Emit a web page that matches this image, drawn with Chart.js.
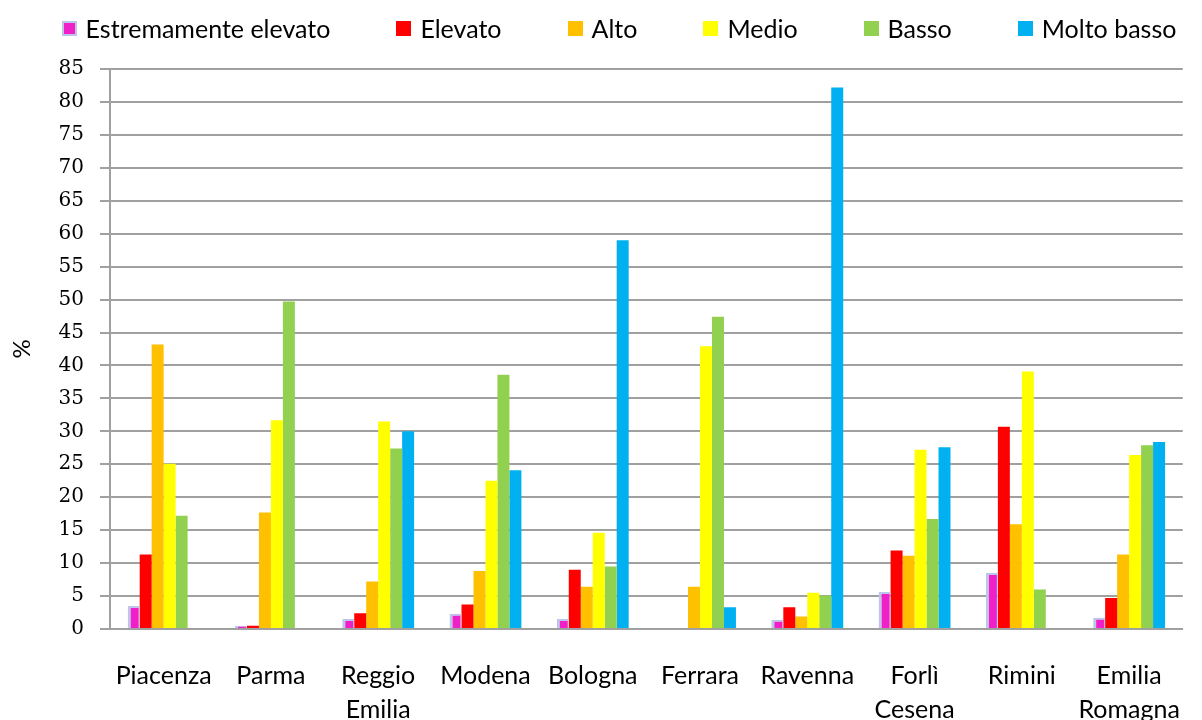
<!DOCTYPE html>
<html lang="it">
<head>
<meta charset="UTF-8">
<title>Classi di rischio per provincia</title>
<script src="https://cdn.jsdelivr.net/npm/chart.js@4.4.1/dist/chart.umd.min.js"></script>
<style>
  body { margin: 0; background: #fff; }
  #contenitore { position: relative; width: 1202px; height: 720px; }
  #legenda {
    position: absolute; top: 13px; left: 0; width: 1202px; height: 30px;
    box-sizing: border-box; padding-left: 36px;
    display: flex; justify-content: center; align-items: center; gap: 66px;
    font-family: Lato, sans-serif; font-size: 25px; color: #000;
  }
  .voce { display: flex; align-items: center; white-space: nowrap; }
  .quadrato { width: 15px; height: 15px; margin-right: 9px; box-sizing: border-box; }
</style>
</head>
<body>
<div id="contenitore">
  <canvas id="grafico"></canvas>
  <div id="legenda"></div>
</div>
<script>
// ===============================
// DATI
// ===============================

const province = ["Piacenza", "Parma", ["Reggio", "Emilia"], "Modena", "Bologna",
  "Ferrara", "Ravenna", ["Forlì", "Cesena"], "Rimini", ["Emilia", "Romagna"]];

const classi = ["Estremamente elevato", "Elevato", "Alto", "Medio", "Basso", "Molto basso"];

// percentuali per provincia (stesso ordine di "province")
const estremamenteElevato = [3.5, 0.5, 1.5, 2.3, 1.5, 0, 1.4, 5.6, 8.5, 1.7];
const elevato = [11.3, 0.5, 2.4, 3.7, 9.0, 0, 3.3, 11.9, 30.7, 4.7];
const alto = [43.2, 17.7, 7.2, 8.8, 6.4, 6.4, 1.9, 11.1, 15.9, 11.3];
const medio = [25.1, 31.7, 31.5, 22.5, 14.6, 42.9, 5.5, 27.2, 39.1, 26.4];
const basso = [17.2, 49.7, 27.4, 38.6, 9.5, 47.4, 5.1, 16.7, 6.0, 27.9];
const moltoBasso = [0, 0, 30.0, 24.1, 59.0, 3.3, 82.2, 27.6, 0, 28.4];

const tacche = [0, 5, 10, 15, 20, 25, 30, 35, 40, 45, 50, 55, 60, 65, 70, 75, 80, 85];

// ===============================
// STILE
// ===============================

const colori = ["#f020c8", "#ff0000", "#ffc000", "#ffff00", "#92d050", "#00b0f0"];
const coloreBordoMagenta = "#bcc6ea";
const grigio = "#a0a0a0";

const serie = [estremamenteElevato, elevato, alto, medio, basso, moltoBasso];

// ===============================
// GRAFICO
// ===============================

const ctx = document.getElementById("grafico").getContext("2d");

const grafico = new Chart(ctx, {
  type: "bar",
  data: {
    labels: province,
    datasets: classi.map(function (nome, i) {
      return {
        label: nome,
        data: serie[i],
        backgroundColor: colori[i],
        borderColor: i === 0 ? coloreBordoMagenta : colori[i],
        borderWidth: i === 0 ? { left: 3, top: 2, right: 1, bottom: 0 } : 0,
        categoryPercentage: 0.67,
        barPercentage: 1
      };
    })
  },
  options: {
    responsive: true,
    maintainAspectRatio: false,
    animation: false,
    layout: { padding: { top: 69, right: 4, left: 0, bottom: 0 } },
    plugins: {
      legend: { display: false },
      tooltip: { enabled: false }
    },
    scales: {
      x: {
        grid: { display: false },
        border: { display: true, color: grigio, width: 2 },
        ticks: {
          color: "#000",
          font: { family: "Lato", size: 25, lineHeight: 1.36 },
          padding: 22,
          maxRotation: 0,
          autoSkip: false
        },
        afterFit: function (scala) { scala.height = 91; }
      },
      y: {
        min: tacche[0],
        max: tacche[tacche.length - 1],
        afterBuildTicks: function (scala) {
          scala.ticks = tacche.map(function (v) { return { value: v }; });
        },
        grid: { color: grigio, lineWidth: 2, tickLength: 10 },
        border: { color: grigio, width: 2 },
        ticks: {
          color: "#000",
          font: { family: "DejaVu Serif", size: 20 },
          padding: 16
        },
        title: {
          display: true,
          text: "%",
          color: "#000",
          font: { family: "Lato", size: 24 },
          padding: { top: 8, bottom: 0 }
        },
        afterFit: function (scala) { scala.width = 110; }
      }
    }
  }
});

// ===============================
// LEGENDA
// ===============================

function disegnaLegenda(chart) {
  const legenda = document.getElementById("legenda");
  legenda.innerHTML = "";

  chart.data.datasets.forEach(function (ds, i) {
    const voce = document.createElement("div");
    voce.className = "voce";

    const quadrato = document.createElement("span");
    quadrato.className = "quadrato";
    quadrato.style.background = ds.backgroundColor;
    if (i === 0) {
      quadrato.style.border = "2px solid " + coloreBordoMagenta;
    }

    const testo = document.createElement("span");
    testo.textContent = ds.label;

    voce.appendChild(quadrato);
    voce.appendChild(testo);
    legenda.appendChild(voce);
  });
}

disegnaLegenda(grafico);
</script>
</body>
</html>
